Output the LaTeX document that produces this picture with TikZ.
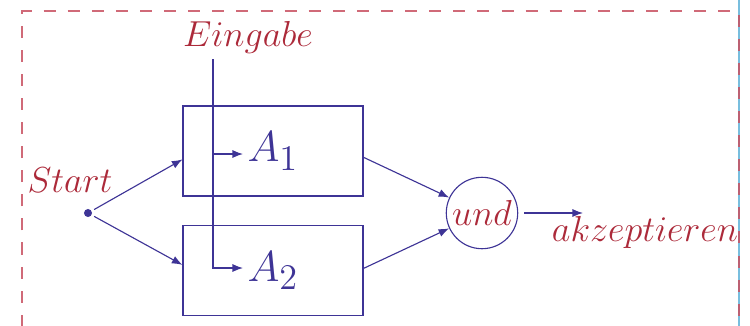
\documentclass[tikz,border=0pt]{standalone}
\usepackage{tikz}
\definecolor{autblue}{RGB}{62,52,150}
\definecolor{autred}{RGB}{172,42,58}
\definecolor{framered}{RGB}{200,80,96}
\definecolor{framecyan}{RGB}{120,190,222}
\usetikzlibrary{arrows.meta,positioning,calc}
\begin{document}
\begin{tikzpicture}[scale=0.7, >={Latex[length=4.2pt,width=3.2pt]},
  every node/.style={font=\fontsize{14}{16}\selectfont},
  automat/.style={draw=autblue, minimum width=2.52cm, minimum height=1.26cm, text=autblue, font=\fontsize{19}{22}\selectfont, line width=0.45pt},
  lbl/.style={text=autred},
  flow/.style={->, autblue, line width=0.45pt}]
\useasboundingbox (0,0) rectangle (15,6.5);
% Frame
\draw[framecyan, line width=0.7pt] (14.78,6.6) -- (14.78,-1);
\draw[framered, dash pattern=on 4.8pt off 4.8pt, line width=0.6pt, opacity=0.85] (0.44,-1) -- (0.44,6.28) -- (14.78,6.28) -- (14.78,-1);
% Nodes
\node[automat] (A1) at (5.46,3.48) {$A_1$};
\node[automat] (A2) at (5.46,1.09) {$A_2$};
\node[circle, draw=autblue, line width=0.45pt, minimum size=1.0cm, inner sep=0pt, text=autred] (und) at (9.64,2.24) {$und$};
\node[circle, fill=autblue, inner sep=0pt, minimum size=3.2pt, outer sep=1.2pt] (start) at (1.76,2.24) {};
% Labels
\node[lbl] (startlbl) at (1.4,2.9) {$Start$};
\node[lbl] (eingabe) at (4.96,5.76) {$Eingabe$};
\node[lbl] (akz) at (12.9,1.86) {$akzeptieren$};
% Input line
\coordinate (in) at (4.26,5.32);
\coordinate (in1) at (4.86,3.42);
\coordinate (in2) at (4.86,1.14);
\draw[flow] (in) |- (in1);
\draw[flow] (in) |- (in2);
% Arrows
\draw[flow] (start) -- ([yshift=-4.8pt]A1.west);
\draw[flow] (start) -- ([yshift=3.2pt]A2.west);
\draw[flow] ([yshift=-3.6pt]A1.east) -- (und);
\draw[flow] ([yshift=1.2pt]A2.east) -- (und);
\coordinate (acc) at (11.66,2.24);
\draw[flow, shorten <=2.4pt] (und) -- (acc);
\end{tikzpicture}
\end{document}
